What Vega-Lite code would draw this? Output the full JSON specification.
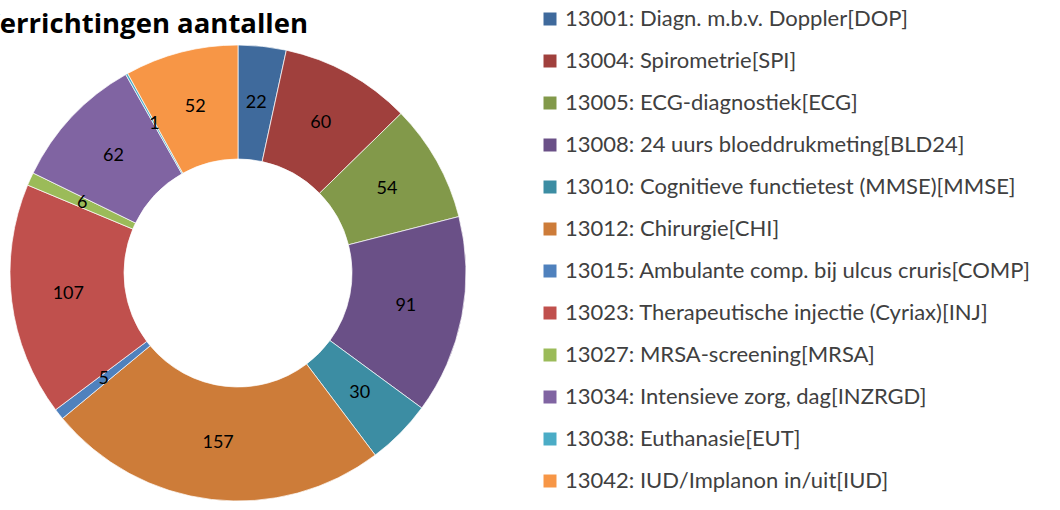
{
  "$schema": "https://vega.github.io/schema/vega-lite/v6.json",
  "width": 476,
  "height": 456,
  "autosize": {"type": "none"},
  "padding": {"left": 0, "top": 45, "right": 584, "bottom": 9},
  "background": "white",
  "title": {
    "text": "Verrichtingen aantallen",
    "anchor": "start",
    "frame": "group",
    "dx": -18,
    "dy": 68,
    "fontSize": 27.5,
    "font": "Open Sans",
    "fontWeight": "bold",
    "color": "#000000",
    "baseline": "bottom",
    "offset": 10
  },
  "data": {
    "values": [
      {"code": "13001: Diagn. m.b.v. Doppler[DOP]", "n": 22, "o": 1},
      {"code": "13004: Spirometrie[SPI]", "n": 60, "o": 2},
      {"code": "13005: ECG-diagnostiek[ECG]", "n": 54, "o": 3},
      {"code": "13008: 24 uurs bloeddrukmeting[BLD24]", "n": 91, "o": 4},
      {"code": "13010: Cognitieve functietest (MMSE)[MMSE]", "n": 30, "o": 5},
      {"code": "13012: Chirurgie[CHI]", "n": 157, "o": 6},
      {"code": "13015: Ambulante comp. bij ulcus cruris[COMP]", "n": 5, "o": 7},
      {"code": "13023: Therapeutische injectie (Cyriax)[INJ]", "n": 107, "o": 8},
      {"code": "13027: MRSA-screening[MRSA]", "n": 6, "o": 9},
      {"code": "13034: Intensieve zorg, dag[INZRGD]", "n": 62, "o": 10},
      {"code": "13038: Euthanasie[EUT]", "n": 1, "o": 11},
      {"code": "13042: IUD/Implanon in/uit[IUD]", "n": 52, "o": 12}
    ]
  },
  "encoding": {
    "theta": {"field": "n", "type": "quantitative", "stack": true},
    "order": {"field": "o", "type": "quantitative"},
    "color": {
      "field": "code",
      "type": "nominal",
      "scale": {
        "domain": [
          "13001: Diagn. m.b.v. Doppler[DOP]",
          "13004: Spirometrie[SPI]",
          "13005: ECG-diagnostiek[ECG]",
          "13008: 24 uurs bloeddrukmeting[BLD24]",
          "13010: Cognitieve functietest (MMSE)[MMSE]",
          "13012: Chirurgie[CHI]",
          "13015: Ambulante comp. bij ulcus cruris[COMP]",
          "13023: Therapeutische injectie (Cyriax)[INJ]",
          "13027: MRSA-screening[MRSA]",
          "13034: Intensieve zorg, dag[INZRGD]",
          "13038: Euthanasie[EUT]",
          "13042: IUD/Implanon in/uit[IUD]"
        ],
        "range": ["#3F6A9C", "#A0403D", "#82994A", "#6A5087", "#3C8DA3", "#CD7C39", "#4F81BD", "#C0504D", "#9BBB59", "#8064A2", "#4BACC6", "#F79646"]
      },
      "legend": {
        "title": null,
        "orient": "none",
        "legendX": 539,
        "legendY": -37,
        "padding": 0,
        "symbolType": "square",
        "symbolSize": 169,
        "symbolStrokeWidth": 0,
        "labelFont": "Lato",
        "labelFontSize": 22,
        "labelColor": "#404040",
        "labelLimit": 600,
        "labelOffset": 4,
        "rowPadding": 20
      }
    }
  },
  "layer": [
    {
      "mark": {"type": "arc", "radius": 228, "radius2": 114, "stroke": "white", "strokeWidth": 0.7}
    },
    {
      "mark": {"type": "text", "radius": 171, "font": "Lato", "fontSize": 18, "color": "#000000"},
      "encoding": {
        "text": {"field": "n", "type": "quantitative"},
        "color": {"value": "#000000"}
      }
    }
  ],
  "config": {"view": {"stroke": null}}
}
